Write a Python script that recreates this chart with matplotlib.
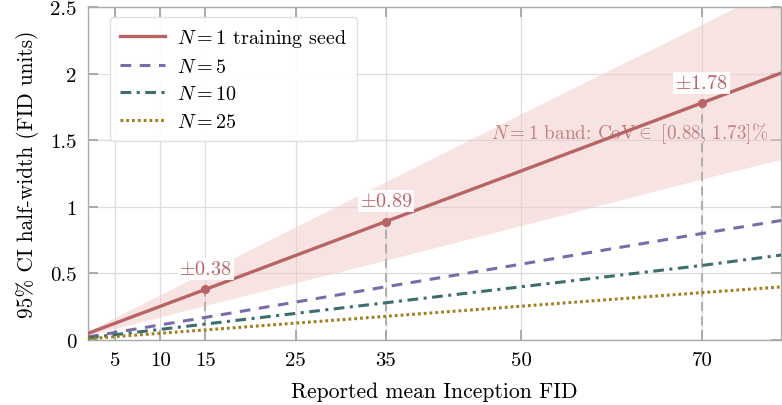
import numpy as np
import matplotlib
matplotlib.use("Agg")
import matplotlib.pyplot as plt

plt.rcParams['font.family'] = 'serif'
plt.rcParams['font.serif'] = ['cmr10']
plt.rcParams['mathtext.fontset'] = 'cm'
plt.rcParams['axes.formatter.use_mathtext'] = True

# values
fid = [2, 15, 35, 50, 70, 79]
hw_n1 = [0.05, 0.38, 0.89, 1.27, 1.78, 2.01]
hw_n5 = [0.023, 0.17, 0.40, 0.57, 0.80, 0.90]
hw_n10 = [0.016, 0.12, 0.28, 0.40, 0.56, 0.64]
hw_n25 = [0.010, 0.076, 0.178, 0.254, 0.356, 0.40]
band_lo = [0.035, 0.26, 0.60, 0.86, 1.21, 1.36]
band_hi = [0.068, 0.51, 1.19, 1.70, 2.37, 2.68]

mark_x = [15, 35, 70]
mark_y = [0.38, 0.89, 1.78]
mark_lbl = ["$\\pm0.38$", "$\\pm0.89$", "$\\pm1.78$"]

xticks = [5, 10, 15, 25, 35, 50, 70]
yticks = [0, 0.5, 1, 1.5, 2, 2.5]
ytick_lbl = ["0", "0.5", "1", "1.5", "2", "2.5"]

red = "#b86466"
purple = "#7c6aa9"
teal = "#3d6d6f"
gold = "#a67c1a"

fig = plt.figure(figsize=(7.82, 4.06), dpi=100)
ax = fig.add_axes([0.1125, 0.16, 0.8865, 0.82])

ax.fill_between(fid, band_lo, band_hi, color="#f2c9c9", alpha=0.5, lw=0, zorder=1)

for x, y in zip(mark_x, mark_y):
    ax.plot([x, x], [0, y], color="#aaaaaa", lw=1.3, ls=(0, (5, 3)), zorder=2)

ax.plot(fid, hw_n1, color=red, lw=2.4, label="$N=1$ training seed", zorder=4)
ax.plot(fid, hw_n5, color=purple, lw=2.2, ls=(0, (3.5, 2.8)), label="$N=5$", zorder=3)
ax.plot(fid, hw_n10, color=teal, lw=2.2, ls=(0, (3.5, 1.8, 1, 1.8)), label="$N=10$", zorder=3)
ax.plot(fid, hw_n25, color=gold, lw=2.2, ls=(0, (0.9, 1.0)), label="$N=25$", zorder=3)
ax.plot(mark_x, mark_y, "o", color=red, ms=5.5, zorder=5)

for x, y, s in zip(mark_x, mark_y, mark_lbl):
    ax.annotate(s, (x, y), xytext=(0, 8), textcoords="offset points",
                ha="center", va="bottom", fontsize=14.5, color=red,
                bbox=dict(boxstyle="square,pad=0.1", fc="white", ec="none", alpha=0.9),
                zorder=6)

ax.text(62, 1.56, "$N=1$ band: CoV$\\in$ [0.88, 1.73]%", ha="center", va="center",
        fontsize=13.8, color=red, alpha=0.8, zorder=6)

ax.set_xlim(2, 78.8)
ax.set_ylim(0, 2.5)
ax.set_xticks(xticks)
ax.set_xticklabels([str(t) for t in xticks])
ax.set_yticks(yticks)
ax.set_yticklabels(ytick_lbl)
ax.grid(True, color="#dddddd", lw=0.9, zorder=0)
ax.set_axisbelow(True)
for s in ax.spines.values():
    s.set_color("#aaaaaa")
    s.set_linewidth(1.0)
ax.tick_params(direction="in", top=True, right=True, length=7, width=1.4,
               color="#aaaaaa", labelsize=15, pad=8)

ax.set_xlabel("Reported mean Inception FID", fontsize=15.6, labelpad=9)
ax.set_ylabel("95% CI half-width (FID units)", fontsize=15.4, labelpad=8)

leg = ax.legend(loc="upper left", bbox_to_anchor=(0.032, 0.97), borderaxespad=0,
                fontsize=14.5, frameon=True, fancybox=True, framealpha=0.9,
                edgecolor="#dddddd", handlelength=2.2, handletextpad=0.6,
                borderpad=0.5, labelspacing=0.45)

fig.savefig("out.png", dpi=100)
